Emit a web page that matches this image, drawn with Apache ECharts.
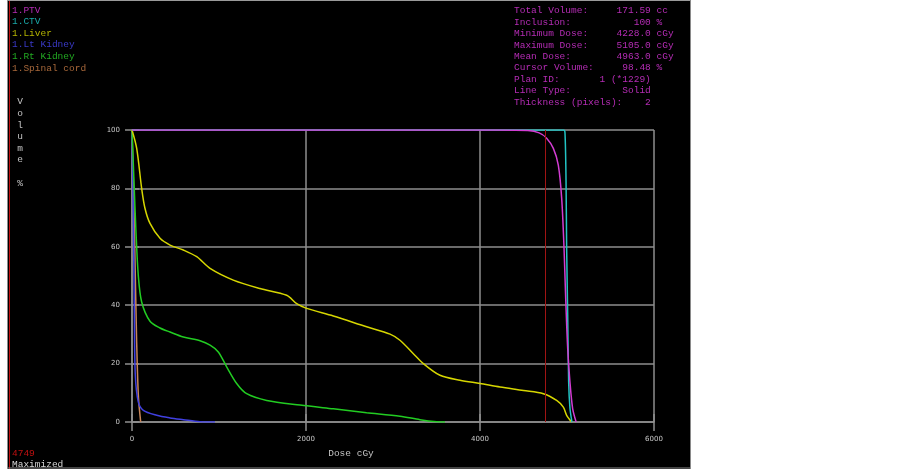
<!DOCTYPE html>
<html>
<head>
<meta charset="utf-8">
<title>DVH</title>
<script src="https://cdn.jsdelivr.net/npm/echarts@6/dist/echarts.min.js"></script>
<style>
  html, body { margin: 0; padding: 0; background: #fff; }
  #chart { width: 903px; height: 469px; }
</style>
</head>
<body>
<div id="chart"></div>
<script>
// dose (cGy), volume (%)
var ptvData = [[0,100],[4200,100],[4550,99.8],[4680,99],[4766,97.2],[4843,93.7],[4900,88],[4939,76.6],[4966,59.4],[4985,42.3],[5008,25.2],[5034,13.7],[5065,4.6],[5105,0]];
var ctvData = [[0,100],[4962,100],[4977,99],[4989,82.3],[4996,59.4],[5008,36.6],[5019,13.7],[5034,4.7],[5057,0]];
var liverData = [[0,100],[54,93.7],[111,80],[149,73.2],[207,68],[322,62.9],[437,60.6],[590,58.9],[744,56.6],[897,52.6],[1164,48.6],[1471,45.7],[1778,43.4],[1893,40.5],[2008,38.9],[2314,36.3],[2697,32.6],[2966,30.1],[3080,28],[3234,23.4],[3349,20],[3540,16],[3770,14.3],[4000,13.2],[4230,12],[4500,10.8],[4728,9.7],[4881,7.4],[4958,5.1],[4996,2.3],[5054,0]];
var ltKidneyData = [[0,100],[15,70.9],[27,36.6],[38,16],[72,6.9],[130,4],[284,2.3],[437,1.4],[590,0.8],[782,0.1],[954,0]];
var rtKidneyData = [[0,100],[23,82.3],[46,65],[72,50.3],[111,41.1],[207,34.5],[322,32.2],[437,30.8],[590,29.1],[782,27.8],[897,26.3],[992,24],[1088,18.9],[1203,13.2],[1318,9.7],[1549,7.4],[1931,5.8],[2314,4.5],[2697,3.2],[3080,2],[3310,0.8],[3502,0.1],[3598,0]];
var spinalData = [[0,100],[20,78],[35,55],[48,35],[60,20],[75,8],[100,0]];

var structNames = ['1.PTV', '1.CTV', '1.Liver', '1.Lt Kidney', '1.Rt Kidney', '1.Spinal cord'];
var textColors = ['#b52cb5', '#1aa8a8', '#b3b300', '#3a3ac8', '#22aa22', '#a8683a'];
var lineColors = ['#d23cd2', '#22c4c4', '#d6d600', '#4040e0', '#22cc22', '#c8865a'];

var xTicks = [0, 6000, 2000];   // min, max, step
var yTicks = [0, 100, 20];
var cursorDose = 4749;

var statsLines = [
  'Total Volume:     171.59 cc',
  'Inclusion:           100 %',
  'Minimum Dose:     4228.0 cGy',
  'Maximum Dose:     5105.0 cGy',
  'Mean Dose:        4963.0 cGy',
  'Cursor Volume:     98.48 %',
  'Plan ID:       1 (*1229)',
  'Line Type:         Solid',
  'Thickness (pixels):    2'
];

var gridCol = '#8e8e8e';
var mono = '"Liberation Mono", "DejaVu Sans Mono", monospace';

var chart = echarts.init(document.getElementById('chart'));

var graphics = [
  // white margins round the black panel
  { type: 'rect', shape: { x: 0, y: 0, width: 7, height: 469 }, style: { fill: '#fff' } },
  { type: 'rect', shape: { x: 691, y: 0, width: 212, height: 469 }, style: { fill: '#fff' } },
  { type: 'line', shape: { x1: 7.5, y1: 0, x2: 7.5, y2: 469 }, style: { stroke: '#8a8a8a', lineWidth: 1 } },
  { type: 'line', shape: { x1: 9.5, y1: 0, x2: 9.5, y2: 469 }, style: { stroke: '#c01010', lineWidth: 1 } },
  { type: 'line', shape: { x1: 7, y1: 0.5, x2: 691, y2: 0.5 }, style: { stroke: '#9a9a9a', lineWidth: 1 } },
  { type: 'line', shape: { x1: 7, y1: 468, x2: 691, y2: 468 }, style: { stroke: '#8a8a8a', lineWidth: 1 } },
  { type: 'line', shape: { x1: 690.5, y1: 0, x2: 690.5, y2: 469 }, style: { stroke: '#8a8a8a', lineWidth: 1 } },
  { type: 'text', x: 20, y: 96, style: { text: 'V\no\nl\nu\nm\ne\n\n%', fill: '#c4c4c4', font: '9.5px ' + mono, lineHeight: 11.6, align: 'center' } },
  { type: 'text', x: 514, y: 5, style: { text: statsLines.join('\n'), fill: '#b52cb5', font: '9.5px ' + mono, lineHeight: 11.45 } },
  { type: 'text', x: 351, y: 453.5, style: { text: 'Dose cGy', fill: '#c4c4c4', font: '9.5px ' + mono, align: 'center', verticalAlign: 'middle' } },
  { type: 'text', x: 12, y: 453, style: { text: String(cursorDose), fill: '#c01010', font: '9.5px ' + mono, verticalAlign: 'middle' } },
  { type: 'text', x: 12, y: 464.5, style: { text: 'Maximized', fill: '#d8d8d8', font: '9.5px ' + mono, verticalAlign: 'middle' } }
];
for (var i = 0; i < structNames.length; i++) {
  graphics.push({ type: 'text', x: 12, y: 10 + i * 11.6,
    style: { text: structNames[i], fill: textColors[i], font: '9.5px ' + mono, verticalAlign: 'middle' } });
}

function curve(name, data, color) {
  return {
    name: name, type: 'line', data: data, showSymbol: false, symbol: 'none',
    smooth: 0.3, lineStyle: { color: color, width: 1.5 }, itemStyle: { color: color }
  };
}

var series = [
  curve('1.Spinal cord', spinalData, lineColors[5]),
  curve('1.Lt Kidney', ltKidneyData, lineColors[3]),
  curve('1.Rt Kidney', rtKidneyData, lineColors[4]),
  curve('1.Liver', liverData, lineColors[2]),
  curve('1.CTV', ctvData, lineColors[1]),
  curve('1.PTV', ptvData, lineColors[0])
];
series[3].markLine = {
  silent: true, symbol: 'none', label: { show: false },
  lineStyle: { color: '#a01414', width: 1, type: 'solid', opacity: 1 },
  emphasis: { disabled: true },
  data: [{ xAxis: cursorDose }]
};

function plainNum(v) { return String(v); }

chart.setOption({
  animation: false,
  backgroundColor: '#000',
  grid: { left: 132, right: 249, top: 130, bottom: 47 },
  xAxis: [{
    type: 'value', min: xTicks[0], max: xTicks[1], interval: xTicks[2], position: 'bottom',
    axisLine: { show: true, lineStyle: { color: gridCol, width: 1.5 } },
    axisTick: { show: true, length: 9, lineStyle: { color: gridCol, width: 1.5 } },
    axisLabel: { color: '#c8c8c8', fontSize: 7, margin: 14, fontFamily: 'DejaVu Sans', formatter: plainNum },
    splitLine: { show: true, lineStyle: { color: gridCol, width: 1.5 } }
  }, {
    type: 'value', min: xTicks[0], max: xTicks[1], interval: xTicks[2], position: 'top',
    axisLine: { show: false },
    axisTick: { show: true, length: 8, lineStyle: { color: gridCol, width: 1.5 } },
    axisLabel: { show: false },
    splitLine: { show: false }
  }],
  yAxis: [{
    type: 'value', min: yTicks[0], max: yTicks[1], interval: yTicks[2], position: 'left',
    axisLine: { show: true, lineStyle: { color: gridCol, width: 1.5 } },
    axisTick: { show: true, length: 7, lineStyle: { color: gridCol, width: 1.5 } },
    axisLabel: { color: '#c8c8c8', fontSize: 7, margin: 12, fontFamily: 'DejaVu Sans', formatter: plainNum },
    splitLine: { show: true, lineStyle: { color: gridCol, width: 1.5 } }
  }, {
    type: 'value', min: yTicks[0], max: yTicks[1], interval: yTicks[2], position: 'right',
    axisLine: { show: false },
    axisTick: { show: true, length: 7, lineStyle: { color: gridCol, width: 1.5 } },
    axisLabel: { show: false },
    splitLine: { show: false }
  }],
  graphic: graphics,
  series: series
});
</script>
</body>
</html>
